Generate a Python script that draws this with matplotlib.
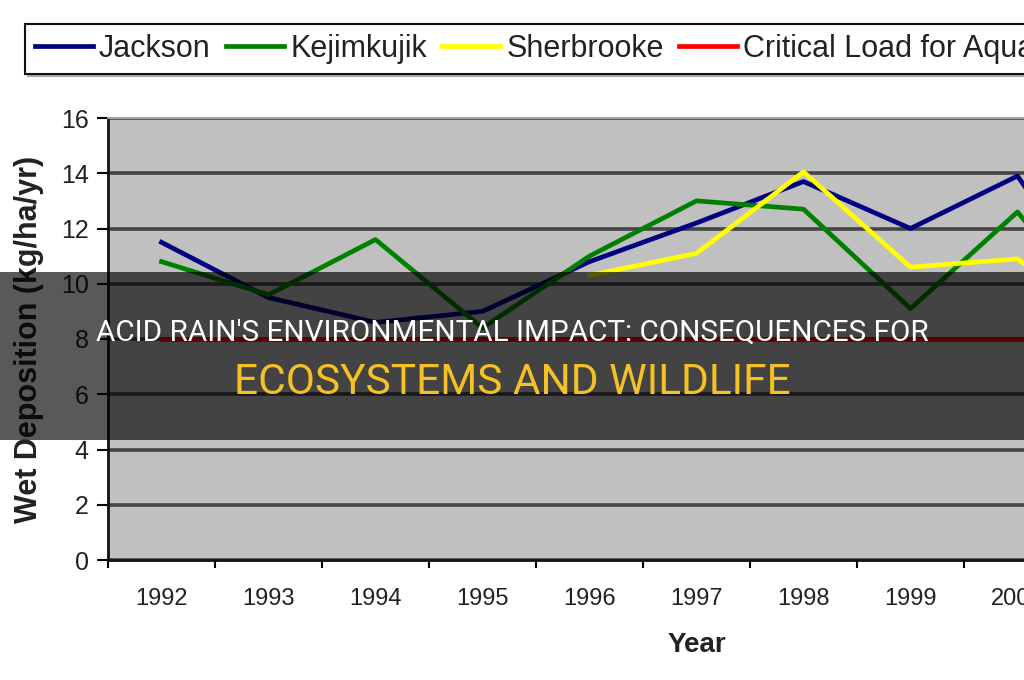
import matplotlib.pyplot as plt
import numpy as np

# values (2001 is only glimpsed at the right edge)
years = ['1992', '1993', '1994', '1995', '1996', '1997', '1998', '1999', '2000', '2001']
jackson = [11.5, 9.5, 8.6, 9.0, 10.8, 12.2, 13.7, 12.0, 13.9, 8.4]
kejimkujik = [10.8, 9.6, 11.6, 8.4, 11.0, 13.0, 12.7, 9.1, 12.6, 7.9]
sherbrooke = [np.nan, np.nan, np.nan, np.nan, 10.3, 11.1, 14.05, 10.6, 10.9, 8.0]
critical_load = [8, 8, 8, 8, 8, 8, 8, 8, 8, 8]

series_names = ['Jackson', 'Kejimkujik', 'Sherbrooke', 'Critical Load for Aquatic Ecosystems']
series_colors = ['#000080', '#008000', '#ffff00', '#ff0000']

plt.rcParams['font.family'] = ['Liberation Sans', 'DejaVu Sans']

fig = plt.figure(figsize=(10.24, 6.8), dpi=100)
# plot area runs off the right edge, like the cropped original
ax = fig.add_axes([108 / 1024, 120 / 680, 11 * 107 / 1024, 442 / 680])
ax.set_facecolor('#c0c0c0')

x = np.arange(len(years))
lines = []
for vals, name, col in zip([jackson, kejimkujik, sherbrooke, critical_load], series_names, series_colors):
    ln, = ax.plot(x, vals, color=col, lw=3.4, label=name, zorder=3)
    lines.append(ln)

ax.set_xlim(-0.5, 10.5)
ax.set_ylim(0, 16)
ax.set_yticks(range(0, 17, 2))
ax.set_xticks(x)
ax.set_xticklabels(years)
ax.set_xticks(np.arange(-0.5, 10.6, 1), minor=True)
ax.tick_params(axis='x', which='major', length=0, pad=20, labelsize=17, labelcolor='#222222')
ax.tick_params(axis='x', which='minor', length=6, width=1.5, direction='out')
ax.tick_params(axis='y', length=8, width=1.5, pad=6, labelsize=18, labelcolor='#222222')

ax.grid(axis='y', color='#454545', lw=2.6, zorder=1)
ax.set_axisbelow(True)
for s in ['left', 'bottom']:
    ax.spines[s].set_linewidth(2)
    ax.spines[s].set_color('#111111')
ax.spines['top'].set_color('#a0a0a0')
ax.spines['top'].set_linewidth(1.5)
ax.spines['right'].set_visible(False)

ax.set_ylabel('Wet Deposition (kg/ha/yr)', fontsize=22, fontweight='bold', color='#222222', labelpad=12)
ax.set_xlabel('Year', fontsize=20, fontweight='bold', color='#222222', labelpad=16)

leg = fig.legend(handles=lines, loc='upper left', bbox_to_anchor=(25 / 1024, 1 - 24 / 680),
                 ncol=4, fontsize=22, frameon=True, fancybox=False, edgecolor='#111111',
                 handlelength=1.9, handletextpad=0.2, columnspacing=0.5, borderpad=0.32,
                 borderaxespad=0, shadow={'color': '#aaaaaa', 'alpha': 1})
leg.get_frame().set_linewidth(1.5)
for t in leg.get_texts():
    t.set_color('#222222')

# dark banner with headline across the middle
fig.patches.append(plt.Rectangle((0, 1 - 440 / 680), 1, 168 / 680, transform=fig.transFigure,
                                 facecolor='black', alpha=0.65, zorder=10))
fig.text(0.5, 1 - 333 / 680, "ACID RAIN'S ENVIRONMENTAL IMPACT: CONSEQUENCES FOR",
         ha='center', va='center', color='white', fontsize=21.3, family='Roboto', zorder=11)
fig.text(0.5, 1 - 383 / 680, 'ECOSYSTEMS AND WILDLIFE', ha='center', va='center',
         color='#f5c125', fontsize=30.5, family='Roboto', zorder=11)

fig.savefig('out.png', dpi=100)
